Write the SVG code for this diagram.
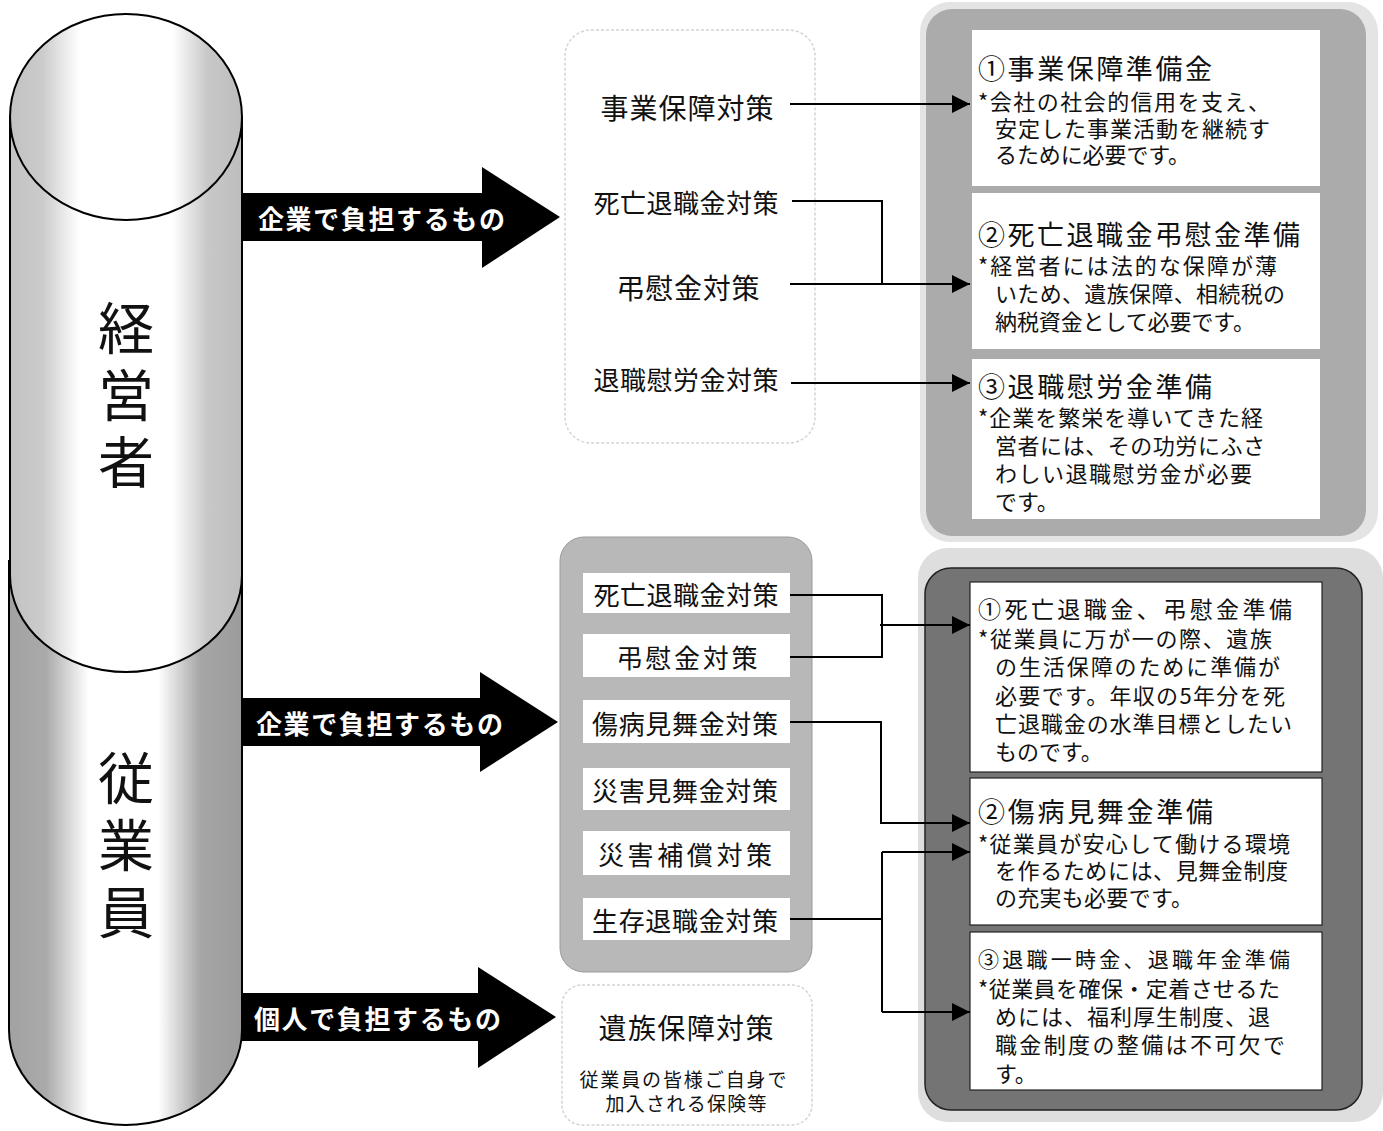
<svg xmlns="http://www.w3.org/2000/svg" width="1383" height="1131" viewBox="0 0 1383 1131">
<defs>
  <style>
    .jp{font-family:"Noto Sans CJK JP","Noto Sans CJK SC",sans-serif;fill:#111;}
    .lbl{font-size:26px;text-anchor:middle;dominant-baseline:central;}
    .big{font-size:28px;text-anchor:middle;dominant-baseline:central;}
    .ttl{font-size:27px;}
    .body{font-size:22px;dominant-baseline:central;}
    .arw{font-size:26px;fill:#fff;font-weight:bold;dominant-baseline:central;}
    .cyl{font-size:56px;text-anchor:middle;writing-mode:vertical-rl;letter-spacing:11px;}
    .conn{fill:none;stroke:#000;stroke-width:2;}
    .panel{fill:#fff;}
    .panelb{fill:#fff;stroke:#222;stroke-width:1.2;}
    .wlab{fill:#fff;}
  </style>
  <linearGradient id="gUp" x1="0" y1="0" x2="1" y2="0">
    <stop offset="0" stop-color="#c2c2c2"/>
    <stop offset="0.14" stop-color="#cbcbcb"/>
    <stop offset="0.3" stop-color="#ffffff"/>
    <stop offset="0.7" stop-color="#ffffff"/>
    <stop offset="0.85" stop-color="#c8c8c8"/>
    <stop offset="1" stop-color="#bdbdbd"/>
  </linearGradient>
  <linearGradient id="gLow" x1="0" y1="0" x2="1" y2="0">
    <stop offset="0" stop-color="#a2a2a2"/>
    <stop offset="0.16" stop-color="#aaaaaa"/>
    <stop offset="0.34" stop-color="#ffffff"/>
    <stop offset="0.64" stop-color="#ffffff"/>
    <stop offset="0.82" stop-color="#a6a6a6"/>
    <stop offset="1" stop-color="#9c9c9c"/>
  </linearGradient>
  <marker id="ahb" viewBox="0 0 10 10" refX="10" refY="5" markerWidth="9" markerHeight="9" orient="auto">
    <path d="M0,0 L10,5 L0,10 Z" fill="#000"/>
  </marker>
</defs>

<rect width="1383" height="1131" fill="#fff"/>

<!-- Cylinder: 従業員 (lower) -->
<g id="cyl-employee">
  <path d="M9,560 L9,1030 A116.5,95 0 0 0 242,1030 L242,560 Z" fill="url(#gLow)"/>
  <path d="M9,560 L9,1030 A116.5,95 0 0 0 242,1030 L242,560" fill="none" stroke="#000" stroke-width="2"/>
  <text class="jp cyl" x="126" y="850">従業員</text>
</g>

<!-- Cylinder: 経営者 (upper) -->
<g id="cyl-manager">
  <path d="M10,117 L10,575 A116,97 0 0 0 242,575 L242,117 Z" fill="url(#gUp)"/>
  <path d="M10,117 L10,575 A116,97 0 0 0 242,575 L242,117" fill="none" stroke="#000" stroke-width="2"/>
  <ellipse cx="126" cy="117" rx="116" ry="103" fill="url(#gUp)" stroke="#000" stroke-width="2"/>
  <text class="jp cyl" x="126" y="400">経営者</text>
</g>

<!-- Block arrows -->
<g id="arrow-company1">
  <path d="M242,193 L482,193 L482,167 L560,217 L482,268 L482,241 L242,241 Z" fill="#000"/>
  <text class="jp arw" x="258" y="217" textLength="247" lengthAdjust="spacing">企業で負担するもの</text>
</g>
<g id="arrow-company2">
  <path d="M242,698 L480,698 L480,672 L558,722 L480,772 L480,746 L242,746 Z" fill="#000"/>
  <text class="jp arw" x="256" y="722" textLength="247" lengthAdjust="spacing">企業で負担するもの</text>
</g>
<g id="arrow-personal">
  <path d="M242,993 L478,993 L478,967 L556,1017 L478,1068 L478,1041 L242,1041 Z" fill="#000"/>
  <text class="jp arw" x="254" y="1017" textLength="247" lengthAdjust="spacing">個人で負担するもの</text>
</g>

<!-- Top middle box -->
<g id="mgr-measures">
  <rect x="565" y="30" width="250" height="413" rx="26" fill="#fff" stroke="#d4d4d4" stroke-width="1.5" stroke-dasharray="3 2"/>
  <text class="jp big" x="687" y="107" textLength="173" lengthAdjust="spacing">事業保障対策</text>
  <text class="jp lbl" x="686" y="201" textLength="185" lengthAdjust="spacing">死亡退職金対策</text>
  <text class="jp big" x="688" y="287" textLength="143" lengthAdjust="spacing">弔慰金対策</text>
  <text class="jp lbl" x="686" y="378" textLength="185" lengthAdjust="spacing">退職慰労金対策</text>
</g>

<!-- Top right frame -->
<g id="mgr-prep">
  <rect x="920" y="2" width="458" height="540" rx="30" fill="#e4e4e4"/>
  <rect x="926" y="9" width="440" height="527" rx="26" fill="#ababab"/>
  <rect class="panel" x="972" y="30" width="348" height="156"/>
  <rect class="panel" x="972" y="193" width="348" height="156"/>
  <rect class="panel" x="972" y="359" width="348" height="160"/>
  <text class="jp body">
    <tspan class="ttl" x="978" y="67" textLength="234" lengthAdjust="spacing">①事業保障準備金</tspan>
    <tspan x="978" y="100" textLength="292" lengthAdjust="spacing">*会社の社会的信用を支え、</tspan>
    <tspan x="995" y="127" textLength="275" lengthAdjust="spacing">安定した事業活動を継続す</tspan>
    <tspan x="995" y="153" textLength="195" lengthAdjust="spacing">るために必要です。</tspan>
  </text>
  <text class="jp body">
    <tspan class="ttl" x="978" y="233" textLength="322" lengthAdjust="spacing">②死亡退職金弔慰金準備</tspan>
    <tspan x="978" y="264" textLength="299" lengthAdjust="spacing">*経営者には法的な保障が薄</tspan>
    <tspan x="995" y="292" textLength="290" lengthAdjust="spacing">いため、遺族保障、相続税の</tspan>
    <tspan x="995" y="320" textLength="260" lengthAdjust="spacing">納税資金として必要です。</tspan>
  </text>
  <text class="jp body">
    <tspan class="ttl" x="978" y="385" textLength="234" lengthAdjust="spacing">③退職慰労金準備</tspan>
    <tspan x="978" y="416" textLength="285" lengthAdjust="spacing">*企業を繁栄を導いてきた経</tspan>
    <tspan x="995" y="444" textLength="270" lengthAdjust="spacing">営者には、その功労にふさ</tspan>
    <tspan x="995" y="472" textLength="257" lengthAdjust="spacing">わしい退職慰労金が必要</tspan>
    <tspan x="995" y="500">です。</tspan>
  </text>
</g>

<!-- Middle gray box (employee measures) -->
<g id="emp-measures">
  <rect x="560" y="537" width="252" height="435" rx="24" fill="#b8b8b8" stroke="#9a9a9a" stroke-width="1"/>
  <rect class="wlab" x="583" y="573" width="207" height="40"/>
  <rect class="wlab" x="583" y="634" width="207" height="43"/>
  <rect class="wlab" x="583" y="700" width="207" height="43"/>
  <rect class="wlab" x="583" y="768" width="207" height="42"/>
  <rect class="wlab" x="583" y="831" width="207" height="44"/>
  <rect class="wlab" x="583" y="898" width="207" height="42"/>
  <text class="jp lbl" x="686" y="593" textLength="185" lengthAdjust="spacing">死亡退職金対策</text>
  <text class="jp lbl" x="687" y="656" textLength="141" lengthAdjust="spacing">弔慰金対策</text>
  <text class="jp lbl" x="685" y="722" textLength="186" lengthAdjust="spacing">傷病見舞金対策</text>
  <text class="jp lbl" x="685" y="789" textLength="186" lengthAdjust="spacing">災害見舞金対策</text>
  <text class="jp lbl" x="685" y="853" textLength="174" lengthAdjust="spacing">災害補償対策</text>
  <text class="jp lbl" x="685" y="919" textLength="186" lengthAdjust="spacing">生存退職金対策</text>
</g>

<!-- Bottom middle box -->
<g id="personal-measures">
  <rect x="562" y="985" width="250" height="140" rx="20" fill="#fff" stroke="#d4d4d4" stroke-width="1.5" stroke-dasharray="3 2"/>
  <text class="jp big" x="686" y="1027" textLength="175" lengthAdjust="spacing">遺族保障対策</text>
  <text class="jp" font-size="19" text-anchor="middle" dominant-baseline="central">
    <tspan x="686" y="1078" textLength="207" lengthAdjust="spacing">従業員の皆様ご自身で</tspan>
    <tspan x="686" y="1102" textLength="161" lengthAdjust="spacing">加入される保険等</tspan>
  </text>
</g>

<!-- Bottom right frame -->
<g id="emp-prep">
  <rect x="918" y="548" width="465" height="574" rx="30" fill="#dedede"/>
  <rect x="925" y="568" width="437" height="542" rx="26" fill="#747474" stroke="#222" stroke-width="1.5"/>
  <rect class="panelb" x="970" y="582" width="352" height="190"/>
  <rect class="panelb" x="970" y="778" width="352" height="147"/>
  <rect class="panelb" x="970" y="932" width="352" height="158"/>
  <text class="jp body">
    <tspan x="978" y="608" font-size="23" textLength="314" lengthAdjust="spacing">①死亡退職金、弔慰金準備</tspan>
    <tspan x="978" y="637" textLength="294" lengthAdjust="spacing">*従業員に万が一の際、遺族</tspan>
    <tspan x="995" y="665" textLength="285" lengthAdjust="spacing">の生活保障のために準備が</tspan>
    <tspan x="995" y="694" textLength="290" lengthAdjust="spacing">必要です。年収の5年分を死</tspan>
    <tspan x="995" y="722" textLength="297" lengthAdjust="spacing">亡退職金の水準目標としたい</tspan>
    <tspan x="995" y="750">ものです。</tspan>
  </text>
  <text class="jp body">
    <tspan class="ttl" x="978" y="810" textLength="235" lengthAdjust="spacing">②傷病見舞金準備</tspan>
    <tspan x="978" y="842" textLength="312" lengthAdjust="spacing">*従業員が安心して働ける環境</tspan>
    <tspan x="995" y="869" textLength="293" lengthAdjust="spacing">を作るためには、見舞金制度</tspan>
    <tspan x="995" y="896" textLength="198" lengthAdjust="spacing">の充実も必要です。</tspan>
  </text>
  <text class="jp body">
    <tspan x="978" y="958" font-size="21" textLength="312" lengthAdjust="spacing">③退職一時金、退職年金準備</tspan>
    <tspan x="978" y="987" textLength="302" lengthAdjust="spacing">*従業員を確保・定着させるた</tspan>
    <tspan x="995" y="1015" textLength="275" lengthAdjust="spacing">めには、福利厚生制度、退</tspan>
    <tspan x="995" y="1043" textLength="290" lengthAdjust="spacing">職金制度の整備は不可欠で</tspan>
    <tspan x="995" y="1072">す。</tspan>
  </text>
</g>

<!-- Connectors -->
<g id="connectors">
  <line class="conn" x1="790" y1="104" x2="970" y2="104" stroke-width="3" marker-end="url(#ahb)"/>
  <polyline class="conn" points="792,201 882,201 882,284"/>
  <line class="conn" x1="790" y1="284" x2="970" y2="284" stroke-width="2.5" marker-end="url(#ahb)"/>
  <line class="conn" x1="791" y1="383" x2="970" y2="383" stroke-width="2.5" marker-end="url(#ahb)"/>

  <polyline class="conn" points="790,595 882,595 882,657 790,657"/>
  <line class="conn" x1="880" y1="625" x2="970" y2="625" stroke-width="2.5" marker-end="url(#ahb)"/>
  <polyline class="conn" points="790,722 881,722 881,823 970,823" stroke-width="2.5" marker-end="url(#ahb)"/>
  <line class="conn" x1="790" y1="919" x2="882" y2="919"/>
  <line class="conn" x1="882" y1="852" x2="882" y2="1012"/>
  <line class="conn" x1="882" y1="852" x2="970" y2="852" stroke-width="2.5" marker-end="url(#ahb)"/>
  <line class="conn" x1="882" y1="1012" x2="970" y2="1012" stroke-width="2.5" marker-end="url(#ahb)"/>
</g>
</svg>
